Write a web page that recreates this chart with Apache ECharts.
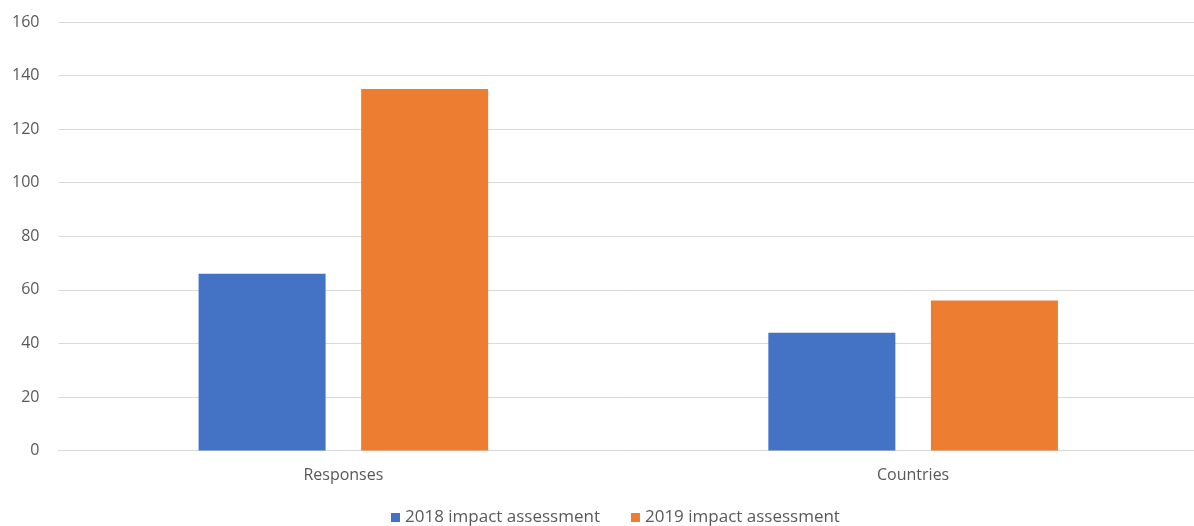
<!DOCTYPE html>
<html>
<head>
<meta charset="utf-8">
<script src="https://cdn.jsdelivr.net/npm/echarts@6/dist/echarts.min.js"></script>
<style>html,body{margin:0;padding:0;background:#fff}#c{width:1194px;height:526px}</style>
</head>
<body>
<div id="c"></div>
<script>
const categories = ['Responses', 'Countries'];
const series2018 = [66, 44];
const series2019 = [135, 56];
const seriesNames = ['2018 impact assessment', '2019 impact assessment'];

const chart = echarts.init(document.getElementById('c'), null, {renderer: 'canvas'});
const font = 'Open Sans';
chart.setOption({
  animation: false,
  backgroundColor: '#ffffff',
  grid: {left: 58.5, right: -4, top: 22, bottom: 75.5, outerBoundsMode: 'none'},
  legend: {
    top: 504,
    left: 386,
    itemWidth: 9, itemHeight: 9, itemGap: 31,
    icon: 'rect',
    textStyle: {fontFamily: font, fontSize: 17, color: '#595959'},
    data: seriesNames
  },
  xAxis: {
    type: 'category',
    data: categories,
    axisLine: {lineStyle: {color: '#d9d9d9'}},
    axisTick: {show: false},
    axisLabel: {fontFamily: font, fontSize: 16, color: '#595959', margin: 17}
  },
  yAxis: {
    type: 'value',
    min: 0, max: 160, interval: 20,
    axisLine: {show: false},
    axisTick: {show: false},
    splitLine: {lineStyle: {color: '#d9d9d9', width: 1}},
    axisLabel: {fontFamily: font, fontSize: 16, color: '#595959', margin: 19}
  },
  series: [
    {name: seriesNames[0], type: 'bar', data: series2018, barWidth: 127, barGap: '28%', itemStyle: {color: '#4472C4'}},
    {name: seriesNames[1], type: 'bar', data: series2019, barWidth: 127, barGap: '28%', itemStyle: {color: '#ED7D31'}}
  ]
});
</script>
</body>
</html>
